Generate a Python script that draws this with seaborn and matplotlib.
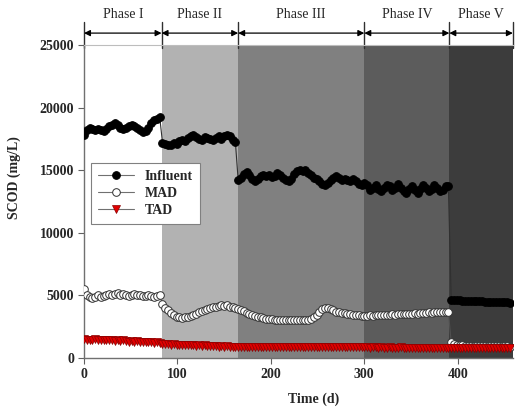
import matplotlib
matplotlib.use("Agg")
import matplotlib.pyplot as plt
import matplotlib.transforms as mtransforms
import numpy as np
import pandas as pd
import seaborn as sns

# ---- sampling days per operating phase ----
days_I = [0, 3, 6, 9, 12, 15, 18, 21, 24, 27, 30, 33, 36, 39, 42, 45, 48, 51,
          54, 57, 60, 63, 66, 69, 72, 75, 78, 81]
days_II = [84, 87, 90, 93, 96, 99, 102, 105, 108, 111, 114, 117, 120, 123, 126,
           129, 132, 135, 138, 141, 144, 147, 150, 153, 156, 159, 162]
days_III = [165, 168, 171, 174, 177, 180, 183, 186, 189, 192, 195, 198, 201, 204,
            207, 210, 213, 216, 219, 222, 225, 228, 231, 234, 237, 240, 243, 246,
            249, 252, 255, 258, 261, 264, 267, 270, 273, 276, 279, 282, 285, 288,
            291, 294, 297]
days_IV = [300, 303, 306, 309, 312, 315, 318, 321, 324, 327, 330, 333, 336, 339,
           342, 345, 348, 351, 354, 357, 360, 363, 366, 369, 372, 375, 378, 381,
           384, 387, 390]
days_V = [393, 396, 399, 402, 405, 408, 411, 414, 417, 420, 423, 426, 429, 432,
          435, 438, 441, 444, 447, 450, 453, 456]

# ---- soluble COD (mg/L) ----
influent = (
    [17800, 18200, 18400, 18300, 18200, 18300, 18200, 18100, 18300, 18500, 18600,
     18770, 18600, 18400, 18300, 18400, 18500, 18600, 18500, 18400, 18200, 18050,
     18100, 18400, 18800, 19000, 19100, 19250]
    + [17200, 17100, 17000, 17050, 17200, 17100, 17300, 17400, 17300, 17600, 17700,
       17800, 17650, 17500, 17400, 17650, 17600, 17500, 17400, 17600, 17700, 17500,
       17700, 17800, 17750, 17400, 17250]
    + [14200, 14400, 14700, 14850, 14600, 14300, 14100, 14300, 14500, 14600, 14500,
       14650, 14450, 14500, 14750, 14600, 14400, 14200, 14100, 14300, 14700, 14950,
       15000, 14900, 15050, 14800, 14600, 14400, 14300, 14100, 13900, 13800, 14000,
       14200, 14400, 14500, 14400, 14200, 14300, 14200, 14100, 14300, 14100, 13900,
       13800]
    + [14000, 13800, 13400, 13600, 13800, 13500, 13300, 13600, 13800, 13700, 13400,
       13600, 13900, 13600, 13300, 13200, 13500, 13700, 13400, 13200, 13500, 13800,
       13600, 13300, 13500, 13800, 13600, 13300, 13400, 13700, 13700]
    + [4650, 4620, 4600, 4600, 4580, 4570, 4560, 4550, 4540, 4530, 4520, 4520,
       4510, 4500, 4490, 4480, 4480, 4470, 4460, 4450, 4440, 4430]
)
mad = (
    [5550, 5000, 4900, 4800, 4850, 5000, 4900, 4950, 5050, 5100, 5000, 5150,
     5200, 5050, 5100, 5000, 4950, 5000, 5100, 5050, 5000, 4950, 4950, 5000,
     4950, 4900, 4950, 5000]
    + [4300, 4000, 3800, 3600, 3450, 3300, 3250, 3200, 3250, 3300, 3350, 3450,
       3550, 3650, 3750, 3850, 3900, 4000, 4050, 4100, 4150, 4200, 4150, 4200,
       4100, 4050, 4000]
    + [3950, 3850, 3750, 3600, 3500, 3400, 3350, 3300, 3250, 3200, 3150, 3100,
       3100, 3050, 3050, 3000, 3050, 3000, 3000, 3050, 3000, 3000, 3050, 3000,
       3000, 3050, 3100, 3250, 3450, 3700, 3900, 4000, 4000, 3900, 3800, 3700,
       3650, 3600, 3600, 3550, 3500, 3450, 3400, 3400, 3350]
    + [3350, 3350, 3400, 3350, 3400, 3400, 3450, 3400, 3450, 3450, 3500, 3450,
       3500, 3500, 3550, 3500, 3550, 3550, 3600, 3550, 3600, 3600, 3600, 3650,
       3600, 3650, 3650, 3650, 3700, 3650, 3700]
    + [1250, 1100, 1050, 1000, 1000, 980, 980, 970, 960, 960, 950, 950, 950, 940,
       940, 930, 930, 930, 920, 920, 920, 910]
)
tad = (
    [1500, 1450, 1400, 1450, 1500, 1450, 1400, 1450, 1400, 1450, 1400, 1350,
     1400, 1350, 1400, 1350, 1300, 1350, 1300, 1350, 1300, 1300, 1250, 1300,
     1250, 1200, 1250, 1200]
    + [1150, 1100, 1100, 1050, 1100, 1050, 1000, 1050, 1000, 1050, 1000, 1000,
       950, 1000, 950, 1000, 950, 950, 950, 950, 900, 950, 900, 950, 900, 900, 900]
    + [900, 880, 900, 870, 880, 860, 880, 900, 870, 860, 880, 870, 850, 870, 880,
       860, 850, 870, 860, 880, 870, 850, 860, 870, 880, 860, 850, 860, 870, 850,
       860, 870, 850, 840, 860, 850, 840, 860, 850, 840, 850, 860, 840, 850, 840]
    + [850, 840, 830, 850, 840, 830, 840, 830, 820, 840, 830, 820, 830, 840, 820,
       830, 820, 810, 830, 820, 810, 820, 830, 810, 820, 810, 800, 820, 810, 800, 810]
    + [800, 790, 780, 800, 790, 780, 790, 780, 770, 790, 780, 770, 780, 790, 770,
       780, 770, 760, 780, 770, 760, 770]
)

days = days_I + days_II + days_III + days_IV + days_V

# ---- phase layout ----
phase_names = ["Phase I", "Phase II", "Phase III", "Phase IV", "Phase V"]
phase_edges = [0, 83, 165, 300, 391, 459]
phase_colors = ["#ffffff", "#b2b2b2", "#808080", "#5c5c5c", "#3c3c3c"]

x_ticks = [0, 100, 200, 300, 400]
y_ticks = [0, 5000, 10000, 15000, 20000, 25000]

df = pd.DataFrame({"Time (d)": days, "Influent": influent, "MAD": mad, "TAD": tad})

sns.set_theme(style="white")
plt.rcParams["font.family"] = ["Liberation Serif", "DejaVu Serif"]

fig = plt.figure(figsize=(5.17, 4.09), dpi=100)
ax = fig.add_axes([0.1625, 0.1247, 0.8295, 0.7653])

# shaded phase backgrounds
for (x0, x1), c in zip(zip(phase_edges[:-1], phase_edges[1:]), phase_colors):
    ax.axvspan(x0, x1, color=c, lw=0, zorder=0)

line_kw = dict(linewidth=0.8, markersize=5.5, zorder=3)
sns.lineplot(data=df, x="Time (d)", y="Influent", ax=ax, color="#303030",
             marker="o", markerfacecolor="black", markeredgecolor="black",
             label="Influent", **line_kw)
sns.lineplot(data=df, x="Time (d)", y="MAD", ax=ax, color="#505050",
             marker="o", markerfacecolor="white", markeredgecolor="#303030",
             markeredgewidth=0.7, label="MAD", **line_kw)
sns.lineplot(data=df, x="Time (d)", y="TAD", ax=ax, color="#7a1010",
             marker="v", markerfacecolor="#e00000", markeredgecolor="#8a0000",
             markeredgewidth=0.5, label="TAD", **line_kw)

ax.set_xlim(phase_edges[0], phase_edges[-1])
ax.set_ylim(0, 25000)
ax.set_xticks(x_ticks)
ax.set_yticks(y_ticks)
ax.set_xticklabels([str(v) for v in x_ticks], fontweight="bold", fontsize=10)
ax.set_yticklabels([str(v) for v in y_ticks], fontweight="bold", fontsize=10)
ax.tick_params(axis="both", direction="out", length=4, width=0.8,
               color="#606060", pad=3, bottom=True, left=True)

ax.set_xlabel("Time (d)", fontweight="bold", fontsize=10)
ax.set_ylabel("SCOD (mg/L)", fontweight="bold", fontsize=10)
ax.xaxis.set_label_coords(0.535, -0.11)
ax.yaxis.set_label_coords(-0.148, 0.575)

for side in ["left", "bottom"]:
    ax.spines[side].set_color("#707070")
    ax.spines[side].set_linewidth(1.0)
ax.spines["top"].set_color("#bdbdbd")
ax.spines["top"].set_linewidth(0.8)
ax.spines["right"].set_visible(False)

# phase arrows and labels above the axes
trans = mtransforms.blended_transform_factory(ax.transData, ax.transAxes)
for x in phase_edges:
    ax.plot([x, x], [0.99, 1.075], transform=trans, color="#303030",
            lw=1.0, clip_on=False)
for name, x0, x1 in zip(phase_names, phase_edges[:-1], phase_edges[1:]):
    ax.annotate("", xy=(x1, 1.038), xytext=(x0, 1.038), xycoords=trans,
                textcoords=trans,
                arrowprops=dict(arrowstyle="<|-|>", color="black", lw=0.9,
                                mutation_scale=9, shrinkA=0, shrinkB=0))
    ax.text((x0 + x1) / 2, 1.097, name, transform=trans, ha="center",
            va="center", fontsize=10)

leg = ax.legend(loc="upper left", bbox_to_anchor=(0.016, 0.623),
                borderaxespad=0, frameon=True, fancybox=False, framealpha=1,
                facecolor="white", handlelength=2.6, labelspacing=0.3,
                borderpad=0.5, prop={"weight": "bold", "size": 10})
leg.get_frame().set_edgecolor("#808080")
leg.get_frame().set_linewidth(0.8)
for h in leg.get_lines():
    h.set_color("#707070")
leg.set_zorder(5)

fig.savefig("out.png", dpi=100)
